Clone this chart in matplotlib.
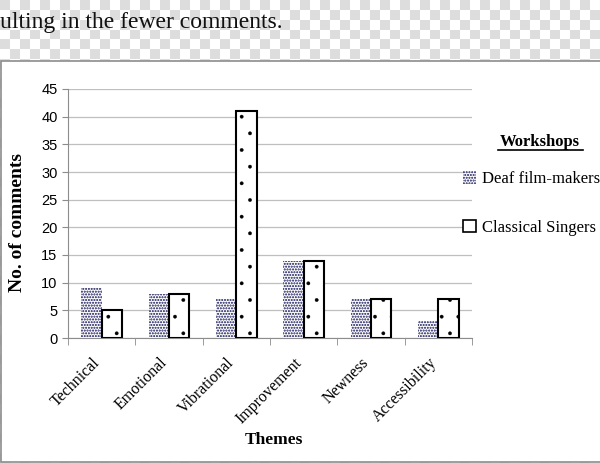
import numpy as np
import matplotlib.pyplot as plt
from matplotlib.patches import Rectangle, Patch
from matplotlib.lines import Line2D
from matplotlib.transforms import ScaledTranslation

# data
themes = ["Technical", "Emotional", "Vibrational", "Improvement", "Newness", "Accessibility"]
deaf = [9, 8, 7, 14, 7, 3]
singers = [5, 8, 41, 14, 7, 7]
series = ["Deaf film-makers", "Classical Singers"]

serif = "Liberation Serif"
W, H = 600, 463

fig = plt.figure(figsize=(6, 4.63), dpi=100)

# checkered page background + white chart box
bg = fig.add_axes([0, 0, 1, 1])
bg.axis("off")
rows, cols = np.indices((47, 60))
checker = ((rows + cols) % 2).astype(float)
bg.imshow(checker, cmap="gray", vmin=-6.5, vmax=1, extent=[0, W, H, 0],
          interpolation="nearest", aspect="auto")
bg.set_xlim(0, W)
bg.set_ylim(H, 0)
bg.add_patch(Rectangle((1, 61), 640, 401, facecolor="white", edgecolor="#8c8c8c", lw=1.2))
bg.text(0, 28, "ulting in the fewer comments.", family=serif, fontsize=17,
        va="baseline", ha="left", color="#111111")

# main plot
ax = fig.add_axes([68 / W, 1 - 338 / H, (472 - 68) / W, (338 - 89) / H])
x = np.arange(len(themes))
b1 = ax.bar(x - 0.15, deaf, 0.3, color="white", hatch="......", edgecolor="#0c0c52",
            linewidth=0, zorder=3)
b2 = ax.bar(x + 0.15, singers, 0.3, color="white", hatch=".", edgecolor="black",
            linewidth=1.5, zorder=3)
for p in b2:
    if hasattr(p, "set_hatch_linewidth"):
        p.set_hatch_linewidth(0.25)

ax.set_xlim(-0.5, len(themes) - 0.5)
ax.set_ylim(0, 45)
ax.set_yticks(range(0, 46, 5))
ax.yaxis.grid(True, color="#bfbfbf", lw=0.9)
ax.set_axisbelow(True)
for s in ["top", "right"]:
    ax.spines[s].set_visible(False)
for s in ["left", "bottom"]:
    ax.spines[s].set_color("#8c8c8c")

ax.set_xticks(x)
ax.set_xticklabels(themes, rotation=45, ha="right", rotation_mode="anchor",
                   family=serif, fontsize=11.5)
ax.tick_params(axis="x", which="major", length=0, pad=12)
ax.set_xticks(np.arange(-0.5, len(themes)), minor=True)
ax.tick_params(axis="x", which="minor", length=5, color="#8c8c8c")
ax.tick_params(axis="y", length=4, color="#8c8c8c", labelsize=10.5)
for t in ax.get_yticklabels():
    t.set_family("Liberation Sans")
shift = ScaledTranslation(-0.10, 0, fig.dpi_scale_trans)
for t in ax.get_xticklabels():
    t.set_transform(t.get_transform() + shift)

fig.text(18 / W, 1 - 223 / H, "No. of comments", rotation=90, family=serif,
         fontsize=14, fontweight="bold", ha="center", va="center")
fig.text(274 / W, 1 - 440 / H, "Themes", family=serif, fontsize=12.5,
         fontweight="bold", ha="center", va="center")

# legend
handles = [Patch(facecolor="white", hatch="......", edgecolor="#0c0c52", lw=0),
           Patch(facecolor="white", edgecolor="black", lw=1.2)]
fig.legend(handles, series, loc="upper left", bbox_to_anchor=(463 / W, 1 - 171 / H),
           frameon=False, prop={"family": serif, "size": 12}, labelspacing=1.95,
           handlelength=0.8, handleheight=0.8, handletextpad=0.35,
           borderpad=0, borderaxespad=0)
fig.text(540 / W, 1 - 146 / H, "Workshops", family=serif, fontsize=12,
         fontweight="bold", ha="center", va="baseline")
fig.add_artist(Line2D([498 / W, 583 / W], [1 - 150 / H, 1 - 150 / H], color="black",
                      lw=1.2, transform=fig.transFigure))

fig.savefig("out.png", dpi=100)
